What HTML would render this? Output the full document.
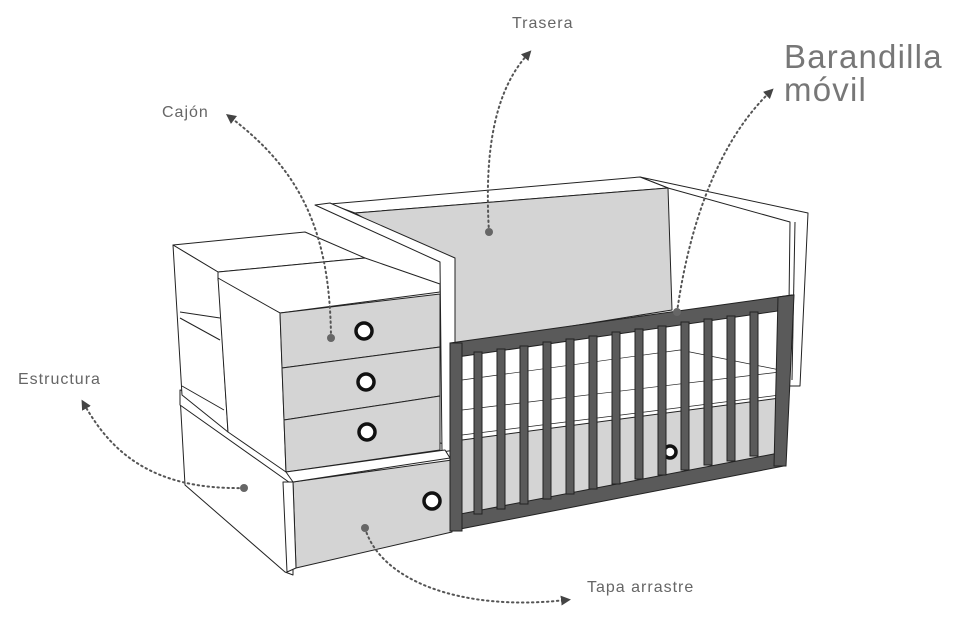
<!DOCTYPE html>
<html><head><meta charset="utf-8"><style>
html,body{margin:0;padding:0;background:#fff;}
svg{display:block;}
text{font-family:"Liberation Sans",sans-serif;fill:#666;}
</style></head><body>
<svg width="953" height="641" viewBox="0 0 953 641" xmlns="http://www.w3.org/2000/svg">
<defs>
<marker id="ah" viewBox="0 0 10 10" refX="5" refY="5" markerWidth="5" markerHeight="5" orient="auto">
<path d="M0,0 L10,5 L0,10 z" fill="#444"/></marker>
</defs>
<g stroke="#222" stroke-width="1" stroke-linejoin="round">
<polygon points="640,177 808,213 800,386 788,386 790,222 668,188" fill="#fff"/>
<line x1="795" y1="222" x2="792" y2="380"/>
<polygon points="330,204 640,177 668,188 355,213" fill="#fff"/>
<polygon points="355,213 668,188 672,310 454,345 440,262" fill="#d4d4d4"/>
<polygon points="462,352 780,305 780,400 462,450" fill="#fff"/>
<polyline points="462,380 680,350 780,370" fill="none" stroke-width=".7"/>
<polyline points="462,410 780,372" fill="none" stroke-width=".7"/>
<polyline points="462,435 780,395" fill="none" stroke-width=".7"/>
<polygon points="462,440 780,398 782,462 462,522" fill="#d4d4d4"/>
<polygon points="180,395 293,470 293,575 285,572 185,485" fill="#fff"/>
<polygon points="180,390 450,445 455,462 293,485 180,405" fill="#fff"/>
<polygon points="293,482 452,460 452,532 296,568" fill="#d4d4d4"/>
<polygon points="283,482 293,482 296,568 287,572" fill="#fff"/>
<polygon points="173,245 305,232 365,258 218,272" fill="#fff"/>
<polygon points="173,245 218,272 228,432 182,395" fill="#fff"/>
<line x1="180" y1="318" x2="220" y2="340"/>
<line x1="180" y1="312" x2="220" y2="318"/>
<line x1="182" y1="386" x2="224" y2="410"/>
<polygon points="315,205 330,203 455,258 455,450 442,452 440,262" fill="#fff"/>
<polygon points="218,272 365,258 440,284 440,292 280,313 218,280" fill="#fff"/>
<polygon points="218,278 280,313 286,472 228,432" fill="#fff"/>
<polygon points="280,313 440,294 440,347 282,368" fill="#d4d4d4"/>
<polygon points="282,368 440,347 440,396 284,420" fill="#d4d4d4"/>
<polygon points="284,420 440,396 440,450 286,472" fill="#d4d4d4"/>
<polygon points="286,472 445,450 450,458 293,482" fill="#fff"/>
</g>
<g fill="#fff" stroke="#111" stroke-width="3.5">
<circle cx="364" cy="331" r="8"/>
<circle cx="366" cy="382" r="8"/>
<circle cx="367" cy="432" r="8"/>
<circle cx="432" cy="501" r="8"/>
<circle cx="670" cy="452" r="6"/>
</g>
<g fill="#5a5a5a" stroke="#222" stroke-width="1">
<polygon points="450,343 792,295 792,309 450,358"/>
<polygon points="450,516 784,452 784,466 450,531"/>
<polygon points="450,343 462,343 462,531 450,531"/>
<polygon points="778,297 794,295 786,466 774,466"/>
<rect x="474" y="352" width="8" height="162"/>
<rect x="497" y="349" width="8" height="160"/>
<rect x="520" y="346" width="8" height="158"/>
<rect x="543" y="342" width="8" height="157"/>
<rect x="566" y="339" width="8" height="155"/>
<rect x="589" y="336" width="8" height="153"/>
<rect x="612" y="332" width="8" height="152"/>
<rect x="635" y="329" width="8" height="150"/>
<rect x="658" y="326" width="8" height="149"/>
<rect x="681" y="322" width="8" height="148"/>
<rect x="704" y="319" width="8" height="146"/>
<rect x="727" y="316" width="8" height="145"/>
<rect x="750" y="312" width="8" height="144"/>
</g>
<g fill="none" stroke="#555" stroke-width="2" stroke-dasharray="1.5,3.5" stroke-linecap="round">
<path d="M489,232 C484,150 495,90 528,54" marker-end="url(#ah)"/>
<path d="M677,312 C690,220 720,140 770,92" marker-end="url(#ah)"/>
<path d="M331,338 C330,230 300,170 230,117" marker-end="url(#ah)"/>
<path d="M244,488 C150,490 110,450 84,404" marker-end="url(#ah)"/>
<path d="M365,528 C380,580 460,612 566,600" marker-end="url(#ah)"/>
</g>
<g fill="#666">
<circle cx="489" cy="232" r="4"/>
<circle cx="677" cy="312" r="4"/>
<circle cx="331" cy="338" r="4"/>
<circle cx="244" cy="488" r="4"/>
<circle cx="365" cy="528" r="4"/>
</g>
<text x="512" y="28" font-size="16" letter-spacing="1">Trasera</text>
<text x="162" y="117" font-size="16" letter-spacing="1">Cajón</text>
<text x="18" y="384" font-size="16" letter-spacing="1">Estructura</text>
<text x="587" y="592" font-size="16" letter-spacing="1">Tapa arrastre</text>
<text x="784" y="68" font-size="33" letter-spacing="1.2" style="fill:#777">Barandilla</text>
<text x="784" y="101" font-size="33" letter-spacing="1.2" style="fill:#777">móvil</text>
</svg>
</body></html>
